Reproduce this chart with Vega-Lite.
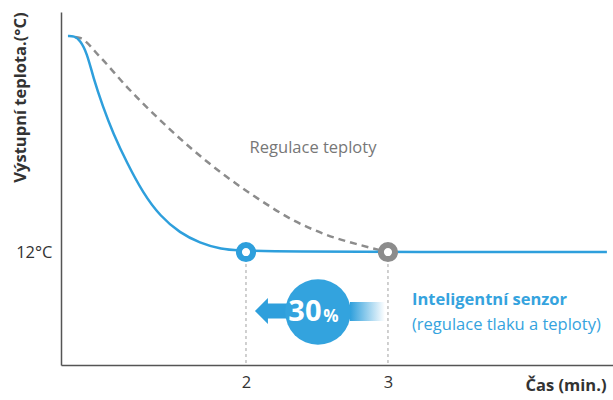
{
  "$schema": "https://vega.github.io/schema/vega-lite/v6.json",
  "autosize": "none",
  "width": 552,
  "height": 353,
  "padding": {"left": 61, "top": 12, "right": 0, "bottom": 35},
  "background": "white",
  "config": {
    "view": {"stroke": null},
    "font": "Open Sans",
    "text": {"font": "Open Sans"}
  },
  "datasets": {
    "blue": [
      {"t": 0.746, "v": 34.95}, {"t": 0.789, "v": 34.95}, {"t": 0.831, "v": 34.52},
      {"t": 0.880, "v": 33.14}, {"t": 0.923, "v": 30.59}, {"t": 0.993, "v": 27.41},
      {"t": 1.063, "v": 24.65}, {"t": 1.162, "v": 21.46}, {"t": 1.275, "v": 18.27},
      {"t": 1.394, "v": 15.83}, {"t": 1.535, "v": 14.02}, {"t": 1.676, "v": 12.96},
      {"t": 1.817, "v": 12.32}, {"t": 2.0, "v": 12.0},
      {"t": 4.542, "v": 12.0}
    ],
    "gray": [
      {"t": 0.796, "v": 34.84}, {"t": 0.831, "v": 34.74}, {"t": 0.972, "v": 32.72},
      {"t": 1.162, "v": 29.53}, {"t": 1.394, "v": 26.03}, {"t": 1.627, "v": 22.84},
      {"t": 1.866, "v": 19.97}, {"t": 2.099, "v": 17.53}, {"t": 2.331, "v": 15.40},
      {"t": 2.570, "v": 13.81}, {"t": 2.803, "v": 12.75}, {"t": 3.0, "v": 12.0}
    ],
    "marks": [{"t": 2, "v": 12, "s": "inteligentní"}, {"t": 3, "v": 12, "s": "regulace"}]
  },
  "layer": [
    {
      "data": {"name": "marks"},
      "mark": {"type": "rule", "color": "#a0a0a0", "strokeWidth": 1, "strokeDash": [3, 3]},
      "encoding": {
        "x": {"field": "t", "type": "quantitative", "scale": {"domain": [0.697, 4.585], "nice": false, "zero": false},
          "axis": {"values": [2, 3], "format": "d", "title": "Čas (min.)", "grid": false, "ticks": false, "domainColor": "#555555", "domainWidth": 1.5,
            "labelFontSize": 16.5, "labelColor": "#333333", "labelPadding": 9, "labelFont": "Open Sans",
            "titleFontSize": 16.5, "titleFontWeight": "bold", "titleColor": "#333333", "titleFont": "Open Sans",
            "titleAnchor": "end", "titleAlign": "right", "titleX": 545, "titleY": 20, "titleBaseline": "middle"}},
        "y": {"field": "v", "type": "quantitative", "scale": {"domain": [0, 37.5], "nice": false},
          "axis": {"values": [12], "labelExpr": "'12°C'", "title": "Výstupní teplota.(°C)", "grid": false, "ticks": false,
            "domainColor": "#555555", "domainWidth": 1.5,
            "labelFontSize": 16.5, "labelColor": "#333333", "labelPadding": 9, "labelFont": "Open Sans",
            "titleFontSize": 16.5, "titleFontWeight": "bold", "titleColor": "#333333", "titleFont": "Open Sans",
            "titleAngle": -90, "titleAlign": "right", "titleBaseline": "middle", "titleX": -41, "titleY": 0}},
        "y2": {"datum": 0}
      }
    },
    {
      "data": {"name": "gray"},
      "mark": {"type": "line", "color": "#8c8c8c", "strokeWidth": 2.5, "strokeDash": [7, 5], "interpolate": "monotone"},
      "encoding": {"x": {"field": "t", "type": "quantitative"}, "y": {"field": "v", "type": "quantitative"}}
    },
    {
      "data": {"name": "blue"},
      "mark": {"type": "line", "color": "#2e9fdc", "strokeWidth": 2.5, "interpolate": "basis"},
      "encoding": {"x": {"field": "t", "type": "quantitative"}, "y": {"field": "v", "type": "quantitative"}}
    },
    {
      "data": {"name": "marks"},
      "mark": {"type": "point", "filled": false, "fill": "white", "fillOpacity": 1, "size": 200, "strokeWidth": 6, "opacity": 1},
      "encoding": {
        "x": {"field": "t", "type": "quantitative"}, "y": {"field": "v", "type": "quantitative"},
        "stroke": {"field": "s", "type": "nominal", "scale": {"domain": ["inteligentní", "regulace"], "range": ["#2e9fdc", "#8c8c8c"]}, "legend": null}
      }
    },
    {
      "data": {"values": [{"a": 2.732, "b": 2.979, "lo": 4.67, "hi": 6.69}]},
      "mark": {"type": "rect", "color": {"gradient": "linear", "x1": 0, "x2": 1, "y1": 0, "y2": 0,
        "stops": [{"offset": 0, "color": "#2e9fdc"}, {"offset": 1, "color": "#ffffff"}]}},
      "encoding": {"x": {"field": "a", "type": "quantitative"}, "x2": {"field": "b"}, "y": {"field": "lo", "type": "quantitative"}, "y2": {"field": "hi"}}
    },
    {
      "data": {"values": [{"t": 2.190, "v": 5.74}]},
      "mark": {"type": "point", "filled": true, "color": "#2e9fdc", "opacity": 1, "size": 1296,
        "shape": "M-1,0L-0.28,-0.72L-0.28,-0.42L1,-0.42L1,0.42L-0.28,0.42L-0.28,0.72Z"},
      "encoding": {"x": {"field": "t", "type": "quantitative"}, "y": {"field": "v", "type": "quantitative"}}
    },
    {
      "data": {"values": [{"t": 2.507, "v": 5.63}]},
      "mark": {"type": "point", "filled": true, "shape": "circle", "color": "#33a3de", "opacity": 1, "size": 4301},
      "encoding": {"x": {"field": "t", "type": "quantitative"}, "y": {"field": "v", "type": "quantitative"}}
    },
    {
      "data": {"values": [{"t": 2.415, "v": 5.63, "txt": "30"}]},
      "mark": {"type": "text", "color": "white", "fontSize": 29, "fontWeight": "bold", "align": "center", "baseline": "middle", "font": "Open Sans"},
      "encoding": {"x": {"field": "t", "type": "quantitative"}, "y": {"field": "v", "type": "quantitative"}, "text": {"field": "txt"}}
    },
    {
      "data": {"values": [{"t": 2.598, "v": 5.15, "txt": "%"}]},
      "mark": {"type": "text", "color": "white", "fontSize": 17, "fontWeight": "bold", "align": "center", "baseline": "middle", "font": "Open Sans"},
      "encoding": {"x": {"field": "t", "type": "quantitative"}, "y": {"field": "v", "type": "quantitative"}, "text": {"field": "txt"}}
    },
    {
      "data": {"values": [{"t": 2.472, "v": 23.05, "txt": "Regulace teploty"}]},
      "mark": {"type": "text", "color": "#777777", "fontSize": 16.5, "align": "center", "baseline": "middle", "font": "Open Sans"},
      "encoding": {"x": {"field": "t", "type": "quantitative"}, "y": {"field": "v", "type": "quantitative"}, "text": {"field": "txt"}}
    },
    {
      "data": {"values": [{"t": 3.169, "v": 6.9, "txt": "Inteligentní senzor"}]},
      "mark": {"type": "text", "color": "#35a3de", "fontSize": 16.5, "fontWeight": "bold", "align": "left", "baseline": "middle", "font": "Open Sans"},
      "encoding": {"x": {"field": "t", "type": "quantitative"}, "y": {"field": "v", "type": "quantitative"}, "text": {"field": "txt"}}
    },
    {
      "data": {"values": [{"t": 3.169, "v": 4.25, "txt": "(regulace tlaku a teploty)"}]},
      "mark": {"type": "text", "color": "#35a3de", "fontSize": 16.5, "align": "left", "baseline": "middle", "font": "Open Sans"},
      "encoding": {"x": {"field": "t", "type": "quantitative"}, "y": {"field": "v", "type": "quantitative"}, "text": {"field": "txt"}}
    }
  ]
}
